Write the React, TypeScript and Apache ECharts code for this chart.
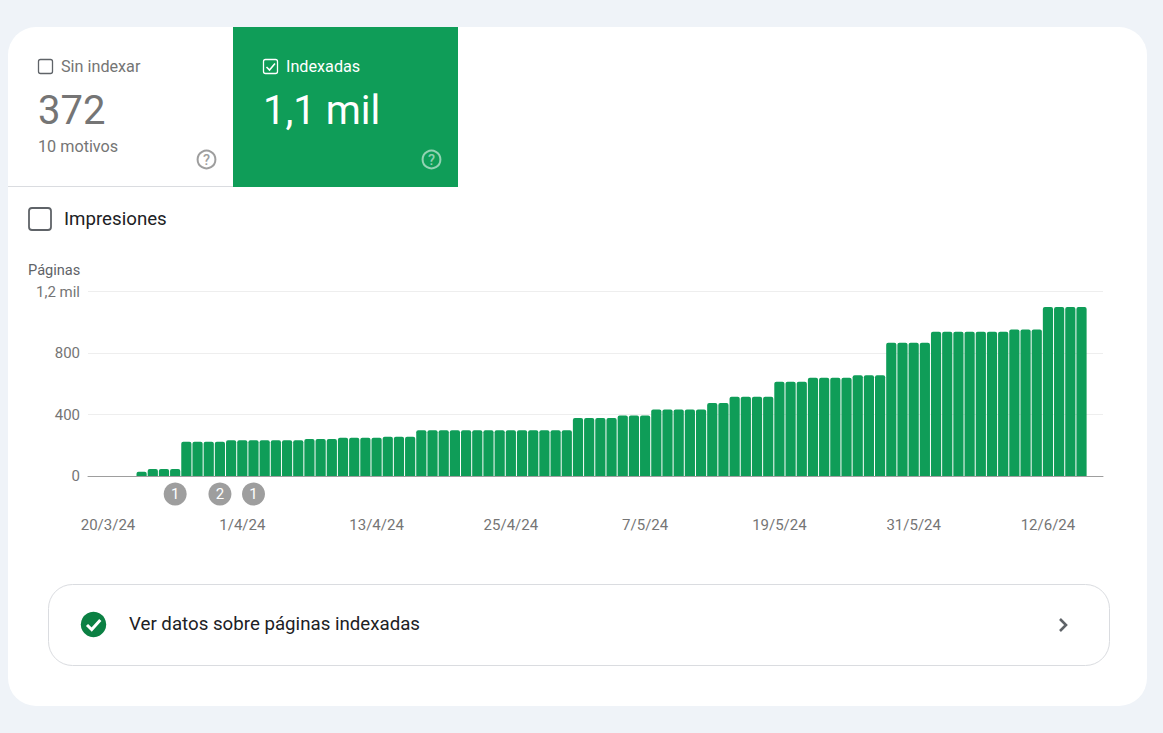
import React, { useEffect, useRef } from "react";
import * as echarts from "echarts";

const firstBarDay = 3; // days after 20/3/24
const pageCounts = [
  28, 45, 45, 45, 222, 222, 222, 222, 232, 232, 232, 232, 232, 232, 232, 240, 240, 240,
  249, 249, 249, 249, 256, 256, 256, 297, 297, 297, 297, 297, 297, 297, 297, 297, 297, 297,
  297, 297, 297, 377, 377, 377, 377, 394, 394, 394, 433, 433, 433, 433, 433, 474, 474, 515,
  515, 515, 515, 613, 613, 613, 639, 639, 639, 639, 655, 655, 655, 867, 867, 867, 867, 938,
  938, 938, 938, 938, 938, 938, 953, 953, 953, 1100, 1100, 1100, 1100,
];
const xTickDays = [0, 12, 24, 36, 48, 60, 72, 84];
const xTickLabels = ["20/3/24", "1/4/24", "13/4/24", "25/4/24", "7/5/24", "19/5/24", "31/5/24", "12/6/24"];
const eventDays = [6, 10, 13];
const eventCounts = [1, 2, 1];
const eventRow = -117;

const FONT = "Roboto, sans-serif";
const GREEN = "#0f9d58";
const GREY = "#757575";

function text(x: number, y: number, t: string, fontSize: number, fill: string, extra: any = {}) {
  return {
    type: "text",
    x,
    y,
    z: 10,
    style: { text: t, fontSize, fill, fontFamily: FONT, textVerticalAlign: "middle", verticalAlign: "middle", ...extra },
  };
}
function box(x: number, y: number, w: number, r: number, stroke: string, lineWidth: number) {
  return {
    type: "rect",
    z: 10,
    shape: { x, y, width: w, height: w, r },
    style: { fill: "transparent", stroke, lineWidth },
  };
}
function help(x: number, y: number, color: string) {
  return [
    { type: "circle", z: 10, shape: { cx: x, cy: y, r: 8.9 }, style: { fill: "transparent", stroke: color, lineWidth: 2 } },
    text(x, y + 0.5, "?", 14.5, color, { align: "center", fontWeight: 500 }),
  ];
}

export default function App() {
  const ref = useRef<HTMLDivElement>(null);
  useEffect(() => {
    document.body.style.margin = "0";
    const chart = echarts.init(ref.current!, undefined, { renderer: "svg" });
    chart.setOption({
      animation: false,
      backgroundColor: "#eff3f8",
      textStyle: { fontFamily: FONT },
      grid: { left: 88, right: 60, top: 291.5, bottom: 257, containLabel: false },
      xAxis: {
        type: "value",
        min: -1.79,
        max: 88.92,
        splitLine: { show: false },
        axisTick: { show: false },
        axisLine: { show: true, lineStyle: { color: "#9e9e9e", width: 1 } },
        axisLabel: {
          customValues: xTickDays,
          formatter: (v: number) => xTickLabels[xTickDays.indexOf(v)] ?? "",
          color: GREY,
          fontSize: 15,
          fontFamily: FONT,
          margin: 41,
        },
      },
      yAxis: {
        type: "value",
        min: 0,
        max: 1200,
        interval: 400,
        axisLine: { show: false },
        axisTick: { show: false },
        splitLine: { lineStyle: { color: "#eeeeee", width: 1 } },
        axisLabel: {
          formatter: (v: number) => (v === 1200 ? "1,2 mil" : String(v)),
          color: GREY,
          fontSize: 15,
          fontFamily: FONT,
          margin: 8,
        },
      },
      series: [
        {
          type: "bar",
          barWidth: 10.2,
          z: 3,
          itemStyle: { color: GREEN, borderRadius: [2, 2, 0, 0] },
          data: pageCounts.map((v, i) => [i + firstBarDay, v]),
        },
        {
          type: "scatter",
          clip: false,
          symbol: "circle",
          symbolSize: 23,
          z: 4,
          itemStyle: { color: "#9e9e9e", opacity: 1 },
          label: {
            show: true,
            position: "inside",
            color: "#fff",
            fontSize: 15,
            fontFamily: FONT,
            formatter: (p: any) => String(p.value[2]),
          },
          data: eventDays.map((d, i) => [d, eventRow, eventCounts[i]]),
        },
      ],
      graphic: {
        elements: [
          { type: "rect", z: -10, silent: true, shape: { x: 8, y: 27, width: 1139, height: 679, r: 28 }, style: { fill: "#ffffff" } },
          { type: "line", z: 1, shape: { x1: 8, y1: 186.5, x2: 233, y2: 186.5 }, style: { stroke: "#dadce0", lineWidth: 1 } },
          { type: "rect", z: 1, shape: { x: 233, y: 27, width: 225, height: 160 }, style: { fill: GREEN } },

          box(38.5, 59.5, 14, 2, "#5f6368", 1.3),
          text(61, 66.5, "Sin indexar", 16.2, GREY),
          text(38, 110.5, "372", 40, GREY),
          text(38, 146.5, "10 motivos", 16.2, GREY),
          ...help(206.5, 159.5, "#9e9e9e"),

          box(263.5, 59.5, 14, 2, "#ffffff", 1.3),
          { type: "polyline", z: 10, shape: { points: [[266.5, 67], [269.5, 70], [275, 63.5]] }, style: { fill: "none", stroke: "#ffffff", lineWidth: 1.6 } },
          text(286, 66.5, "Indexadas", 16.2, "#ffffff"),
          text(263, 110.5, "1,1 mil", 40, "#ffffff"),
          ...help(431.5, 159.5, "rgba(255,255,255,0.55)"),

          box(29, 208, 22, 3, "#5f6368", 1.8),
          text(64, 218.5, "Impresiones", 18.7, "#202124"),
          text(28, 270, "Páginas", 14.6, "#5f6368"),

          { type: "rect", z: 1, shape: { x: 48.5, y: 584.5, width: 1061, height: 81, r: 24 }, style: { fill: "#ffffff", stroke: "#dadce0", lineWidth: 1 } },
          { type: "circle", z: 10, shape: { cx: 93.5, cy: 624.5, r: 12.7 }, style: { fill: "#0b8043" } },
          { type: "polyline", z: 11, shape: { points: [[87, 625], [91.7, 629.5], [100.3, 620]] }, style: { fill: "none", stroke: "#ffffff", lineWidth: 3 } },
          text(129, 623.5, "Ver datos sobre páginas indexadas", 18.7, "#202124"),
          { type: "polyline", z: 10, shape: { points: [[1060, 619], [1066, 625], [1060, 631]] }, style: { fill: "none", stroke: "#5f6368", lineWidth: 2.6 } },
        ],
      },
    });
    return () => chart.dispose();
  }, []);
  return <div ref={ref} style={{ position: "absolute", left: 0, top: 0, width: 1163, height: 733, overflow: "hidden" }} />;
}
